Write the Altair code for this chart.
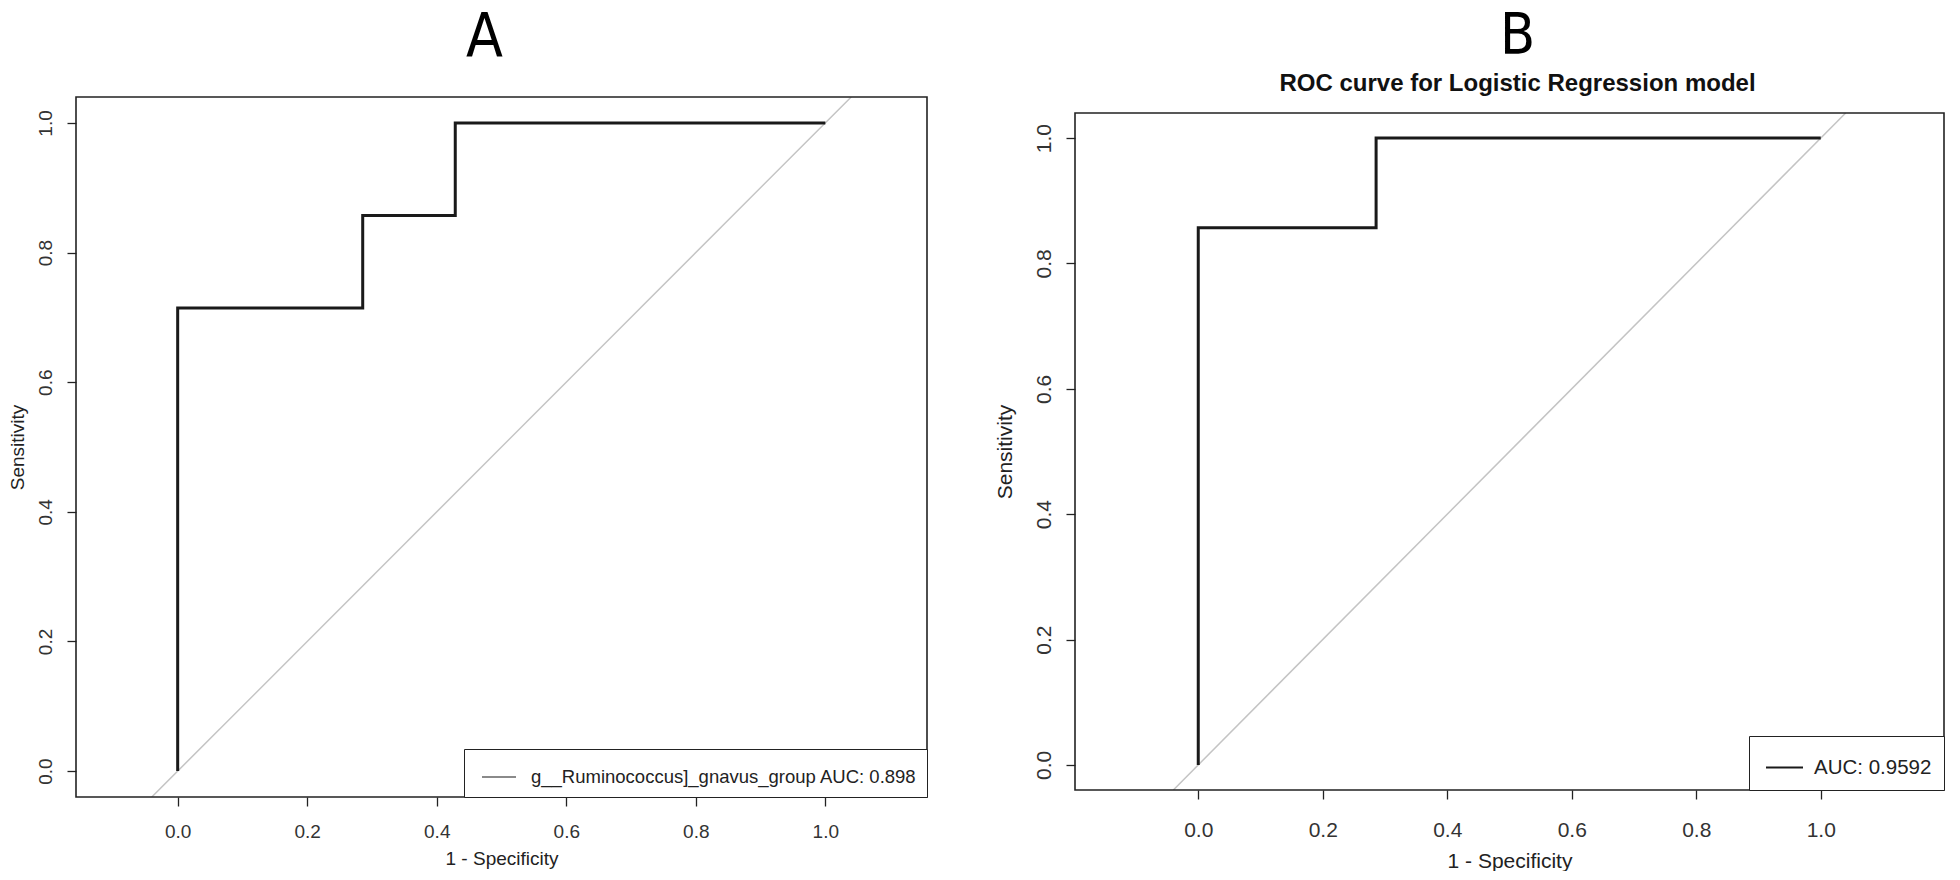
import altair as alt
import pandas as pd

# ---- data ----
fpr_a = [0.0, 0.0, 0.2857, 0.2857, 0.4286, 0.4286, 1.0]
tpr_a = [0.0, 0.7143, 0.7143, 0.8571, 0.8571, 1.0, 1.0]
fpr_b = [0.0, 0.0, 0.2857, 0.2857, 1.0]
tpr_b = [0.0, 0.8571, 0.8571, 1.0, 1.0]
label_a = "g__Ruminococcus]_gnavus_group AUC: 0.898"
label_b = "AUC: 0.9592"
diag_pts = [-0.04, 1.04]          # reference line y = x, drawn across the plot box
box_y = [-0.04, 1.04]             # R's plot box limits (4% extension)
box_x_a = [-0.157, 1.157]
box_x_b = [-0.198, 1.198]
ticks = [0.0, 0.2, 0.4, 0.6, 0.8, 1.0]

SANS = "Liberation Sans, Arial, sans-serif"
NARROW = "Liberation Sans Narrow, DejaVu Sans Condensed, Liberation Sans, sans-serif"


def roc_df(fpr, tpr, label):
    return pd.DataFrame({"i": list(range(len(fpr))), "fpr": fpr, "tpr": tpr, "label": label})


def panel(fpr, tpr, label, sym_color, box_x, y_top, width, height, title, fs,
          x_lpad, x_tpad, y_lpad, y_tpad, leg_size, leg_pad, sym_len, sym_off, leg_gap,
          carrier):
    ydom = [box_y[0], y_top]
    xs = alt.Scale(domain=box_x, nice=False, zero=False)
    ys = alt.Scale(domain=ydom, nice=False, zero=False)
    unit = height / (ydom[1] - ydom[0])
    common = dict(values=ticks, format=".1f", grid=False, domain=False,
                  tickColor="#222", tickSize=9, tickWidth=1.3,
                  labelFont=SANS, labelFontSize=fs, labelColor="#333",
                  titleFont=SANS, titleFontSize=fs, titleFontWeight="normal",
                  titleColor="#222")
    xax = alt.Axis(labelPadding=x_lpad, title="1 - Specificity", titlePadding=x_tpad, **common)
    yax = alt.Axis(labelAngle=270, labelPadding=y_lpad, title="Sensitivity",
                   titlePadding=y_tpad, titleY=(ydom[1] - 0.5) * unit, **common)
    df = roc_df(fpr, tpr, label)
    ddf = pd.DataFrame({"x": diag_pts, "y": diag_pts})
    bdf = pd.DataFrame({"x1": [box_x[0]], "x2": [box_x[1]], "y1": [box_y[0]], "y2": [box_y[1]]})
    diag = alt.Chart(ddf).mark_line(color="#c4c4c4", strokeWidth=1.5, clip=True).encode(
        x=alt.X("x:Q", scale=xs, axis=xax), y=alt.Y("y:Q", scale=ys, axis=yax))
    frame = alt.Chart(bdf).mark_rect(fillOpacity=0, stroke="#222", strokeWidth=1.6).encode(
        x=alt.X("x1:Q", scale=xs), x2="x2:Q", y=alt.Y("y1:Q", scale=ys), y2="y2:Q")
    legend = alt.Legend(title=None, orient="bottom-right", offset=0, strokeColor="#222",
                        fillColor="white", padding=leg_pad, labelFont=SANS,
                        labelFontSize=leg_size, labelColor="#222", labelLimit=0,
                        symbolType="stroke", symbolSize=sym_len * sym_len,
                        symbolOffset=sym_off, symbolStrokeWidth=2, labelOffset=leg_gap)
    color = alt.Color("label:N", scale=alt.Scale(domain=[label], range=[sym_color]), legend=legend)
    layers = [diag]
    if carrier:
        layers.append(alt.Chart(df).mark_line(strokeWidth=1.5).encode(
            x=alt.X("fpr:Q", scale=xs), y=alt.Y("tpr:Q", scale=ys), order="i:Q", color=color))
        layers.append(alt.Chart(df).mark_line(strokeWidth=3, color="#1a1a1a").encode(
            x=alt.X("fpr:Q", scale=xs), y=alt.Y("tpr:Q", scale=ys), order="i:Q"))
    else:
        layers.append(alt.Chart(df).mark_line(strokeWidth=3).encode(
            x=alt.X("fpr:Q", scale=xs), y=alt.Y("tpr:Q", scale=ys), order="i:Q", color=color))
    layers.append(frame)
    return alt.layer(*layers).properties(width=width, height=height, title=title)


title_a = alt.TitleParams("A", font=NARROW, fontSize=60, fontWeight="normal", color="black",
                          anchor="middle", offset=27, dx=-17)
title_b = alt.TitleParams("B", font=NARROW, fontSize=57, fontWeight="normal", color="black",
                          anchor="middle", offset=0, dx=8,
                          subtitle="ROC curve for Logistic Regression model",
                          subtitleFont=SANS, subtitleFontSize=24, subtitleFontWeight="bold",
                          subtitleColor="#111", subtitlePadding=6)

# panel A: box 851 x 700 px ; panel B: box 869 x 677 px, sitting 16 px lower
b_unit = 677 / 1.08
chart_a = panel(fpr_a, tpr_a, label_a, "#8a8a8a", box_x_a, box_y[1], 851, 700, title_a, 19,
                16, 8, 12, 9, 18.5, 10, 34, 7, 14, True)
chart_b = panel(fpr_b, tpr_b, label_b, "#1a1a1a", box_x_b, box_y[1] + 16 / b_unit, 869, 693,
                title_b, 21, 20, 10, 12, 18, 20.5, 12, 37, 4, 10, False)

chart = (alt.hconcat(chart_a, chart_b, spacing=66)
         .resolve_scale(color="independent")
         .resolve_legend(color="independent")
         .properties(padding=0)
         .configure_view(strokeWidth=0))

chart.save("out.html", embed_options={"renderer": "svg", "actions": False})
